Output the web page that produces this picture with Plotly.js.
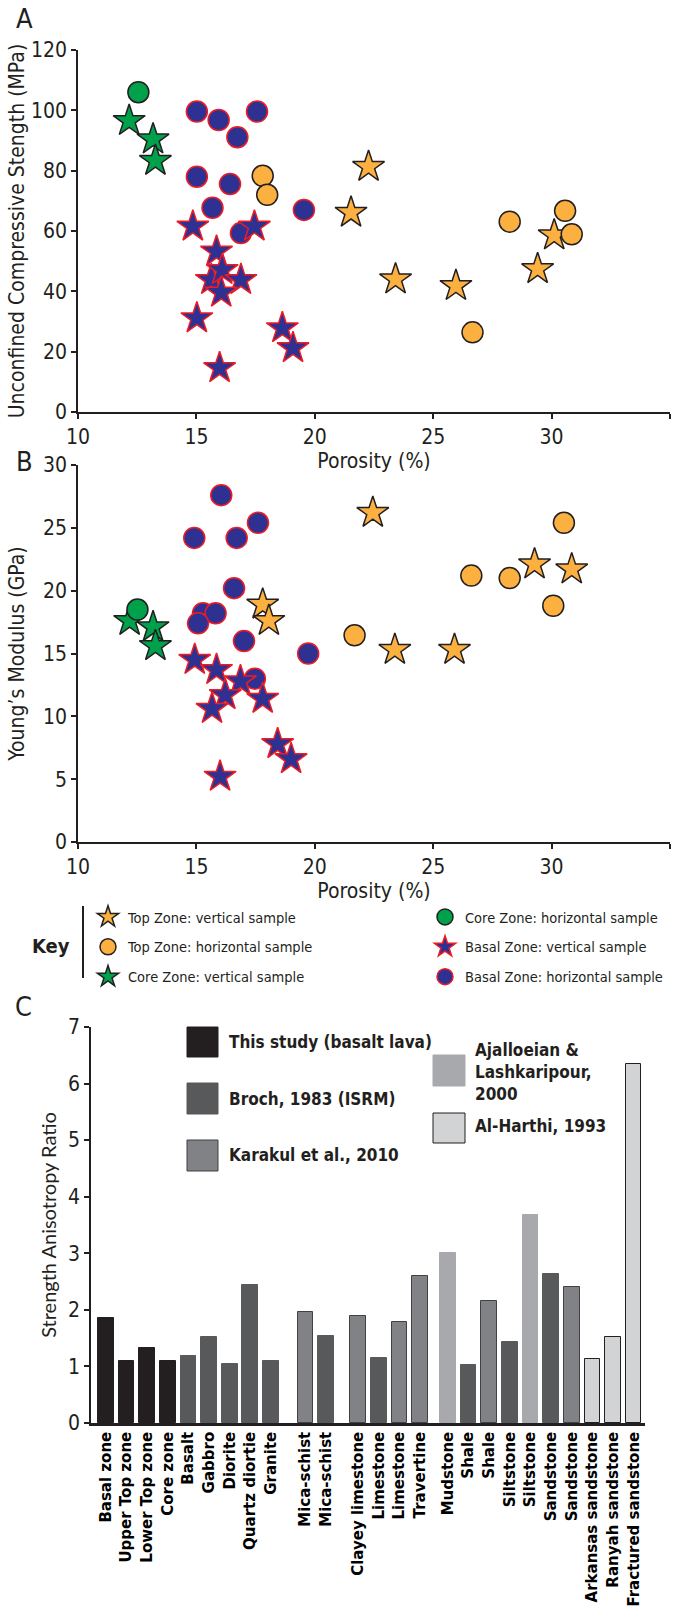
<!DOCTYPE html>
<html><head><meta charset="utf-8">
<script src="https://cdn.plot.ly/plotly-3.0.1.min.js"></script>
<style>html,body{margin:0;padding:0;background:#fff}#chart{width:681px;height:1614px}</style>
</head><body><div id="chart"></div>
<script>
// ---------- Panel A: Unconfined compressive strength vs porosity ----------
const ucsTopVertX   = [22.27, 21.53, 23.41, 25.96, 29.41, 30.11];
const ucsTopVertY   = [81.3, 66.1, 44.0, 41.8, 47.4, 58.6];
const ucsTopHorzX   = [17.80, 17.99, 28.23, 30.57, 30.85, 26.66];
const ucsTopHorzY   = [78.3, 72.0, 63.1, 66.7, 58.9, 26.4];
const ucsCoreVertX  = [12.16, 13.17, 13.27];
const ucsCoreVertY  = [96.5, 90.4, 83.3];
const ucsCoreHorzX  = [12.55];
const ucsCoreHorzY  = [106.0];
const ucsBasalVertX = [14.85, 17.45, 15.85, 15.63, 16.09, 16.88, 16.05, 15.02, 18.63, 19.08, 15.98];
const ucsBasalVertY = [61.5, 61.5, 53.2, 43.8, 47.1, 43.8, 39.6, 31.1, 27.8, 21.2, 14.6];
const ucsBasalHorzX = [15.02, 15.94, 17.56, 16.73, 15.02, 16.42, 15.68, 16.88, 19.54];
const ucsBasalHorzY = [99.6, 96.8, 99.6, 91.1, 78.0, 75.6, 67.7, 59.3, 67.0];

// ---------- Panel B: Young's modulus vs porosity ----------
const ymTopVertX   = [22.45, 17.80, 18.06, 23.38, 25.90, 29.28, 30.85];
const ymTopVertY   = [26.2, 18.9, 17.6, 15.3, 15.3, 22.1, 21.7];
const ymTopHorzX   = [21.68, 26.61, 28.23, 30.07, 30.52];
const ymTopHorzY   = [16.45, 21.2, 21.0, 18.8, 25.4];
const ymCoreVertX  = [12.18, 13.17, 13.27];
const ymCoreVertY  = [17.6, 17.1, 15.6];
const ymCoreHorzX  = [12.51];
const ymCoreHorzY  = [18.5];
const ymBasalVertX = [14.93, 15.85, 16.86, 16.22, 17.80, 15.66, 18.43, 19.00, 16.00];
const ymBasalVertY = [14.5, 13.7, 12.8, 11.7, 11.4, 10.6, 7.8, 6.6, 5.2];
const ymBasalHorzX = [16.05, 17.60, 14.91, 16.70, 16.59, 15.28, 15.81, 15.07, 17.01, 19.72, 17.47];
const ymBasalHorzY = [27.6, 25.4, 24.2, 24.2, 20.2, 18.2, 18.2, 17.4, 16.0, 15.0, 13.0];

const seriesNames = ['Top Zone: vertical sample', 'Top Zone: horizontal sample', 'Core Zone: vertical sample',
                     'Core Zone: horizontal sample', 'Basal Zone: vertical sample', 'Basal Zone: horizontal sample'];

// ---------- Panel C: Strength anisotropy ratio ----------
const rockLabels = ['Basal zone', 'Upper Top zone', 'Lower Top zone', 'Core zone', 'Basalt', 'Gabbro', 'Diorite',
  'Quartz diortie', 'Granite', 'Mica-schist', 'Mica-schist', 'Clayey limestone', 'Limestone', 'Limestone',
  'Travertine', 'Mudstone', 'Shale', 'Shale', 'Siltstone', 'Siltstone', 'Sandstone', 'Sandstone',
  'Arkansas sandstone', 'Ranyah sandstone', 'Fractured sandstone'];
const anisotropyRatio = [1.85, 1.10, 1.32, 1.10, 1.18, 1.52, 1.05, 2.44, 1.09, 1.96, 1.54, 1.89, 1.15, 1.79,
  2.59, 3.01, 1.03, 2.16, 1.44, 3.68, 2.64, 2.40, 1.14, 1.52, 6.35];
const barSource = [0, 0, 0, 0, 1, 1, 1, 1, 1, 2, 1, 2, 1, 2, 2, 3, 1, 2, 1, 3, 1, 2, 4, 4, 4];
const barCluster = [0, 0, 0, 0, 0, 0, 0, 0, 0, 1, 1, 2, 2, 2, 2, 3, 3, 3, 3, 3, 3, 3, 3, 3, 3];
const sourceNames = ['This study (basalt lava)', 'Broch, 1983 (ISRM)', 'Karakul et al., 2010',
  'Ajalloeian &<br>Lashkaripour,<br>2000', 'Al-Harthi, 1993'];

// ---------- styling ----------
const W = 681, H = 1614;
const DARK = '#231f20';
const NARROW = '"Liberation Sans Narrow", "DejaVu Sans Condensed", "Open Sans", sans-serif';
const HUMAN = 'Lato, "Open Sans", sans-serif';
const sourceFill = ['#231f20', '#58595b', '#808285', '#a7a9ac', '#d1d3d4'];
const sourceLine = ['#231f20', '#58595b', '#414042', '#a7a9ac', '#231f20'];
const seriesSymbol = ['star', 'circle', 'star', 'circle', 'star', 'circle'];
const seriesFill = ['#fbb040', '#fbb040', '#00a14b', '#00a14b', '#2e3192', '#2e3192'];
const seriesLine = [DARK, DARK, DARK, DARK, '#ed1c24', '#ed1c24'];
const seriesLegend = ['legend', 'legend', 'legend', 'legend2', 'legend2', 'legend2'];
const seriesRank = [1, 2, 3, 1, 2, 3];
const px = v => v / W;
const py = v => 1 - v / H;

const ucsSets = [[ucsTopVertX, ucsTopVertY], [ucsTopHorzX, ucsTopHorzY], [ucsCoreVertX, ucsCoreVertY],
                 [ucsCoreHorzX, ucsCoreHorzY], [ucsBasalVertX, ucsBasalVertY], [ucsBasalHorzX, ucsBasalHorzY]];
const ymSets = [[ymTopVertX, ymTopVertY], [ymTopHorzX, ymTopHorzY], [ymCoreVertX, ymCoreVertY],
                [ymCoreHorzX, ymCoreHorzY], [ymBasalVertX, ymBasalVertY], [ymBasalHorzX, ymBasalHorzY]];
const drawOrder = [0, 1, 2, 3, 5, 4];

const traces = [];
function scatter(set, k, xa, ya, show) {
  const isStar = seriesSymbol[k] === 'star';
  return {
    type: 'scatter', mode: 'markers', x: set[0], y: set[1], xaxis: xa, yaxis: ya,
    name: seriesNames[k], legend: seriesLegend[k], legendrank: seriesRank[k], legendgroup: 'g' + k,
    showlegend: show, cliponaxis: false, hoverinfo: 'x+y+name',
    marker: { symbol: seriesSymbol[k], size: isStar ? 24 : 21, color: seriesFill[k],
              line: { color: seriesLine[k], width: 1.5 } }
  };
}
drawOrder.forEach(k => traces.push(scatter(ucsSets[k], k, 'x', 'y', true)));
drawOrder.forEach(k => traces.push(scatter(ymSets[k], k, 'x2', 'y2', false)));

// bar positions: index plus a small gap between rock-type clusters
const clusterGap = [0, 0.68, 0.55, 0.35];
const clusterOffset = clusterGap.map((g, i) => clusterGap.slice(0, i + 1).reduce((a, b) => a + b, 0));
const barPos = rockLabels.map((_, i) => i + clusterOffset[barCluster[i]]);
traces.push({
  type: 'bar', x: barPos, y: anisotropyRatio, xaxis: 'x3', yaxis: 'y3', width: 0.76, showlegend: false,
  text: rockLabels, hovertemplate: '%{text}: %{y}<extra></extra>', textposition: 'none',
  marker: { color: barSource.map(s => sourceFill[s]), line: { color: barSource.map(s => sourceLine[s]), width: 1 } }
});

const tickFont = { family: NARROW, size: 21, color: DARK };
const titleFont = { family: NARROW, size: 21, color: DARK };
const axBase = { showline: true, linecolor: DARK, linewidth: 1.5, ticks: 'outside', ticklen: 5, tickwidth: 1.5,
  tickcolor: DARK, showgrid: false, zeroline: false, tickfont: tickFont, automargin: false };
const keyFont = { family: NARROW, size: 14.5, color: DARK };

const xA = px(78), xB = px(670);
const layout = {
  width: W, height: H, margin: { l: 0, r: 0, t: 0, b: 0, autoexpand: false },
  paper_bgcolor: '#fff', plot_bgcolor: 'rgba(0,0,0,0)',
  showlegend: true, bargap: 0,
  xaxis:  Object.assign({}, axBase, { domain: [xA, xB], anchor: 'y', range: [10, 35], dtick: 5,
            title: { text: 'Porosity (%)', font: titleFont, standoff: 1 } }),
  yaxis:  Object.assign({}, axBase, { domain: [py(412), py(50)], anchor: 'x', range: [0, 120], dtick: 20,
            title: { text: 'Unconfined Compressive Stength (MPa)', font: titleFont, standoff: 1 } }),
  xaxis2: Object.assign({}, axBase, { domain: [xA, xB], anchor: 'y2', range: [10, 35], dtick: 5,
            title: { text: 'Porosity (%)', font: titleFont, standoff: 0 } }),
  yaxis2: Object.assign({}, axBase, { domain: [py(842), py(465)], anchor: 'x2', range: [0, 30], dtick: 5,
            title: { text: 'Young\u2019s Modulus (GPa)', font: titleFont, standoff: 13 } }),
  xaxis3: { domain: [px(91), px(645)], anchor: 'y3', range: [-0.72, 26.13], showline: true, linecolor: DARK,
            linewidth: 2.5, ticks: '', showgrid: false, zeroline: false, tickmode: 'array', tickvals: barPos,
            ticktext: rockLabels, tickangle: -90, automargin: false,
            tickfont: { family: '"DejaVu Sans", Verdana, sans-serif', size: 15, weight: 'bold', color: '#000' } },
  yaxis3: Object.assign({}, axBase, { domain: [py(1423), py(1027)], anchor: 'x3', range: [0, 7], dtick: 1,
            title: { text: 'Strength Anisotropy Ratio', font: { family: HUMAN, size: 20, color: DARK }, standoff: 6 } }),
  legend:  { x: px(88), y: py(901), xanchor: 'left', yanchor: 'top', bgcolor: 'rgba(0,0,0,0)', borderwidth: 0,
             font: keyFont, itemsizing: 'trace', tracegroupgap: 8,
             traceorder: 'grouped', itemclick: false, itemdoubleclick: false },
  legend2: { x: px(425), y: py(901), xanchor: 'left', yanchor: 'top', bgcolor: 'rgba(0,0,0,0)', borderwidth: 0,
             font: keyFont, itemsizing: 'trace', tracegroupgap: 8,
             traceorder: 'grouped', itemclick: false, itemdoubleclick: false },
  shapes: [
    { type: 'line', xref: 'paper', yref: 'paper', x0: px(83), x1: px(83), y0: py(906), y1: py(978),
      line: { color: DARK, width: 2 } }
  ],
  annotations: [
    { text: 'A', x: px(14), y: py(19), xref: 'paper', yref: 'paper', xanchor: 'left', yanchor: 'middle',
      showarrow: false, font: { family: NARROW, size: 27, color: DARK } },
    { text: 'B', x: px(14), y: py(462), xref: 'paper', yref: 'paper', xanchor: 'left', yanchor: 'middle',
      showarrow: false, font: { family: NARROW, size: 27, color: DARK } },
    { text: 'C', x: px(13), y: py(1006), xref: 'paper', yref: 'paper', xanchor: 'left', yanchor: 'middle',
      showarrow: false, font: { family: NARROW, size: 27, color: DARK } },
    { text: 'Key', x: px(72), y: py(946), xref: 'paper', yref: 'paper', xanchor: 'right', yanchor: 'middle',
      showarrow: false, font: { family: NARROW, size: 20, weight: 'bold', color: DARK } }
  ]
};

// Panel C key (boxes + labels)
const keyBoxes = [
  { x0: 187, x1: 218, y0: 1027, y1: 1057, tx: 227, ty: 1042 },
  { x0: 187, x1: 218, y0: 1083, y1: 1114, tx: 227, ty: 1099 },
  { x0: 187, x1: 218, y0: 1140, y1: 1171, tx: 227, ty: 1155 },
  { x0: 433, x1: 465, y0: 1055, y1: 1086, tx: 473, ty: 1072 },
  { x0: 433, x1: 465, y0: 1113, y1: 1143, tx: 473, ty: 1126 }
];
keyBoxes.forEach((b, i) => {
  layout.shapes.push({ type: 'rect', xref: 'paper', yref: 'paper', x0: px(b.x0), x1: px(b.x1), y0: py(b.y1), y1: py(b.y0),
    fillcolor: sourceFill[i], line: { color: sourceLine[i], width: 1 } });
  layout.annotations.push({ text: sourceNames[i], x: px(b.tx), y: py(b.ty), xref: 'paper', yref: 'paper',
    xanchor: 'left', yanchor: 'middle', align: 'left', showarrow: false,
    font: { family: NARROW, size: 17, weight: 'bold', color: DARK } });
});

Plotly.newPlot('chart', traces, layout, { staticPlot: false, displayModeBar: false });
</script></body></html>
